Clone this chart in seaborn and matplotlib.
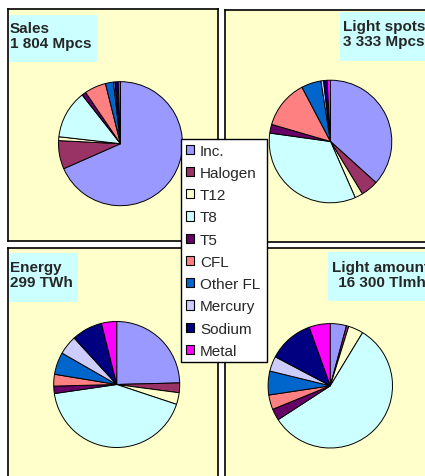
import numpy as np
import pandas as pd
import matplotlib.pyplot as plt
import seaborn as sns
from matplotlib.patches import Rectangle, Patch

sns.set_style("white")
plt.rcParams['font.family'] = ['Liberation Sans', 'DejaVu Sans']

# lamp types, in the order Excel draws them (clockwise from 12 o'clock)
lamps = ['Inc.', 'Halogen', 'T12', 'T8', 'T5', 'CFL', 'Other FL', 'Mercury', 'Sodium', 'Metal']
lamp_colors = ['#9999FF', '#993366', '#FFFFCC', '#CCFFFF', '#660066',
               '#FF8080', '#0066CC', '#CCCCFF', '#000080', '#FF00FF']

# shares in %
sales = [68.4, 7.4, 1.0, 12.6, 1.1, 5.6, 2.1, 0.4, 0.8, 0.6]
light_spots = [36.7, 4.6, 2.1, 33.8, 2.3, 12.8, 5.2, 0.7, 0.9, 0.9]
energy = [24.6, 2.5, 3.0, 42.6, 1.9, 3.0, 5.7, 4.9, 7.9, 3.9]
light_amount = [4.2, 0.6, 3.9, 57.2, 3.0, 3.8, 6.2, 3.9, 11.8, 5.5]

titles = ['Sales\n1 804 Mpcs', 'Light spots\n3 333 Mpcs', 'Energy\n299 TWh', 'Light amount\n 16 300 Tlmh']

df = pd.DataFrame({'lamp': lamps, 'Sales': sales, 'Light spots': light_spots,
                   'Energy': energy, 'Light amount': light_amount})
pal = sns.color_palette(lamp_colors)

W, H = 425, 477
fig = plt.figure(figsize=(W / 100, H / 100), dpi=100)
fig.patch.set_facecolor('white')


def px_axes(x0, y0, x1, y1):
    # pixel box (top-left origin) -> figure axes
    return fig.add_axes([x0 / W, 1 - y1 / H, (x1 - x0) / W, (y1 - y0) / H])


def px_rect(x0, y0, x1, y1, **kw):
    r = Rectangle((x0 / W, 1 - y1 / H), (x1 - x0) / W, (y1 - y0) / H,
                  transform=fig.transFigure, **kw)
    fig.patches.append(r)


# yellow panels
panels = [(8, 10, 218, 242), (225, 11, 432, 243), (8, 249, 218, 484), (225, 249, 432, 484)]
for p in panels:
    ax = px_axes(*p)
    ax.set_facecolor('#FFFFCC')
    ax.set_xticks([])
    ax.set_yticks([])
    for s in ax.spines.values():
        s.set_color('black')
        s.set_linewidth(1.2)

# pies: centre x, centre y, radius (pixels)
pies = [('Sales', 120.5, 144.7, 62), ('Light spots', 330.5, 142.5, 61.3),
        ('Energy', 116.7, 385.5, 63), ('Light amount', 330.3, 386.8, 62.2)]
for col, cx, cy, r in pies:
    ax = px_axes(cx - r, cy - r, cx + r, cy + r)
    ax.pie(df[col], colors=pal, startangle=90, counterclock=False,
           wedgeprops={'edgecolor': 'black', 'linewidth': 0.7, 'clip_on': False})
    ax.set_xlim(-1, 1)
    ax.set_ylim(-1, 1)
    ax.axis('off')

# title boxes
boxes = [(9, 16, 97, 63), (340, 13, 432, 62), (9, 254, 78, 303), (328, 253, 432, 302)]
for b in boxes:
    px_rect(*b, facecolor='#CCFFFF', edgecolor='none', zorder=2)

kw = dict(fontsize=11, fontweight='bold', va='top', linespacing=1.1, zorder=4)
fig.text(10 / W, 1 - 22 / H, titles[0], ha='left', **kw)
fig.text(342.7 / W, 1 - 20 / H, titles[1], ha='left', **kw)
fig.text(10 / W, 1 - 261 / H, titles[2], ha='left', **kw)
fig.text(380 / W, 1 - 261 / H, titles[3], ha='center', multialignment='center', **kw)

handles = [Patch(facecolor=c, edgecolor='black', linewidth=0.8) for c in lamp_colors]
leg = fig.legend(handles, lamps, loc='upper left',
                 bbox_to_anchor=(181 / W, 1 - 365 / H, 86 / W, 225 / H),
                 mode='expand', borderaxespad=0, fontsize=11,
                 handlelength=0.55, handleheight=0.55, handletextpad=0.4,
                 labelspacing=0.54, borderpad=0.3, fancybox=False, framealpha=1)
leg.get_frame().set_edgecolor('black')
leg.get_frame().set_linewidth(1.0)

fig.savefig('out.png', dpi=100, facecolor='white')
